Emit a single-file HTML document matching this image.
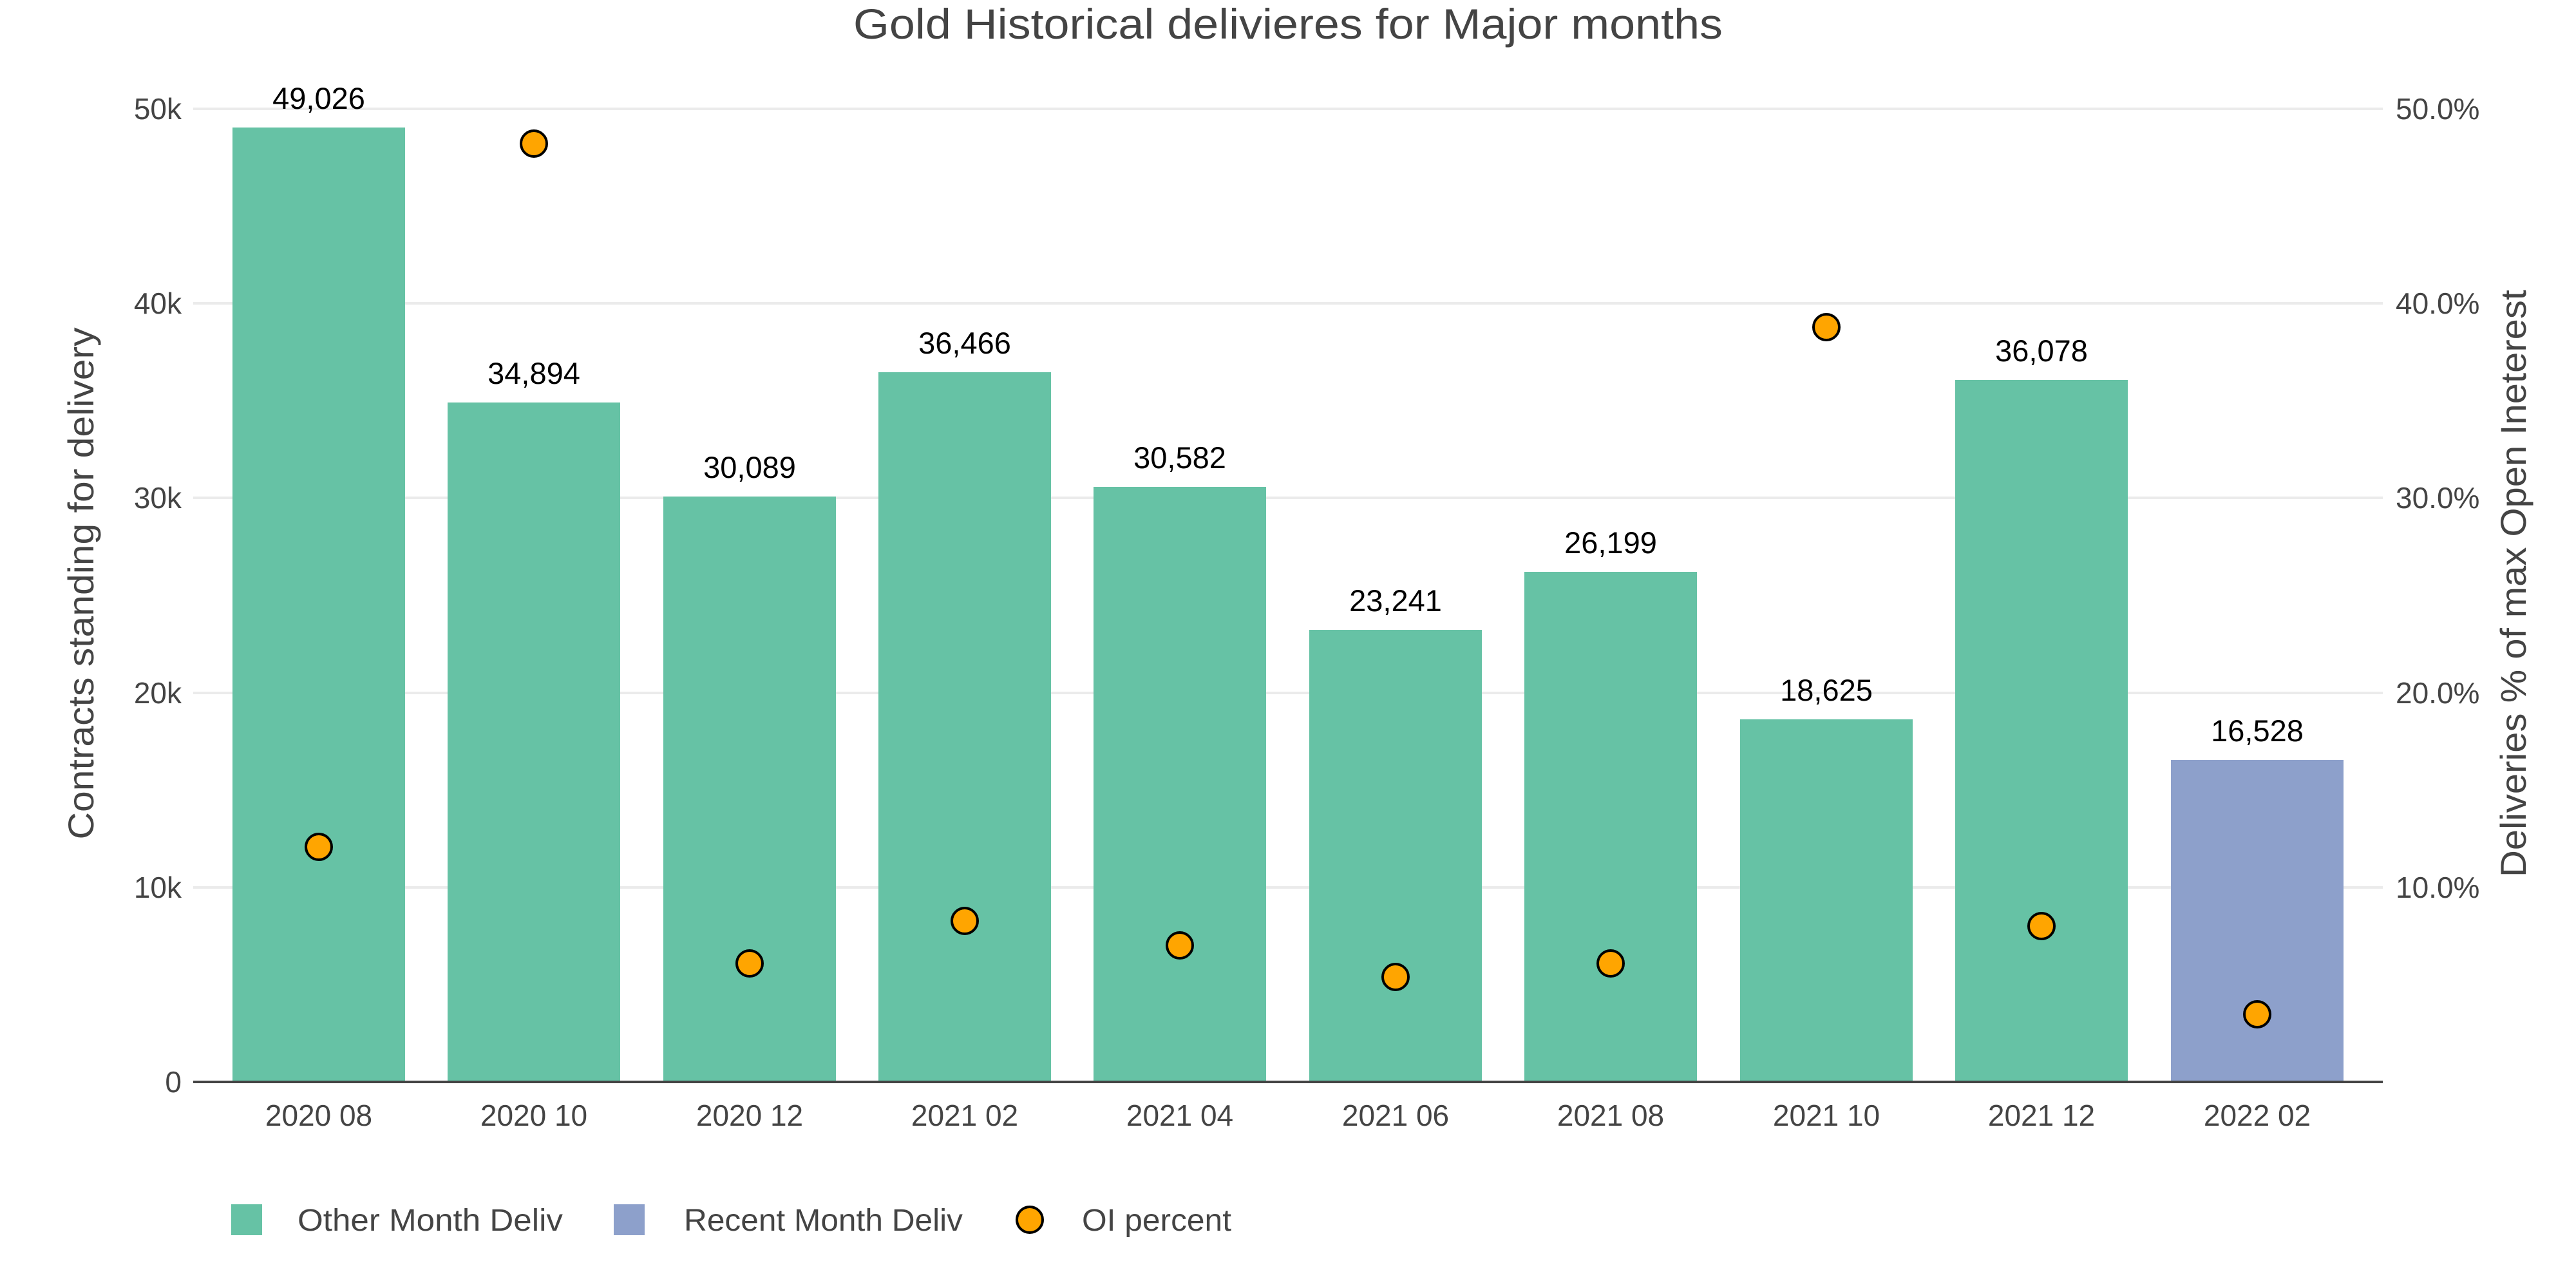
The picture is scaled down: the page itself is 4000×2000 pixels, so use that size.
<!DOCTYPE html>
<html><head><meta charset="utf-8"><style>html,body{margin:0;padding:0;background:#fff}svg{display:block}</style></head>
<body>
<svg width="4000" height="2000" xmlns="http://www.w3.org/2000/svg" font-family="'Liberation Sans', sans-serif">
<rect width="4000" height="2000" fill="#fff"/>
<text x="2000" y="60" font-size="66" fill="#444" text-anchor="middle" textLength="1350" lengthAdjust="spacingAndGlyphs">Gold Historical delivieres for Major months</text>
<g stroke="#ebebeb" stroke-width="4">
<line x1="300" x2="3700" y1="1378" y2="1378"/>
<line x1="300" x2="3700" y1="1076" y2="1076"/>
<line x1="300" x2="3700" y1="773" y2="773"/>
<line x1="300" x2="3700" y1="471" y2="471"/>
<line x1="300" x2="3700" y1="169" y2="169"/>
</g>
<g font-size="46" fill="#444" text-anchor="end">
<text x="282" y="1696">0</text>
<text x="282" y="1394">10k</text>
<text x="282" y="1092">20k</text>
<text x="282" y="789">30k</text>
<text x="282" y="487">40k</text>
<text x="282" y="185">50k</text>
</g>
<g font-size="46" fill="#444" text-anchor="start">
<text x="3720" y="1394">10.0%</text>
<text x="3720" y="1092">20.0%</text>
<text x="3720" y="789">30.0%</text>
<text x="3720" y="487">40.0%</text>
<text x="3720" y="185">50.0%</text>
</g>
<text transform="translate(145,906) rotate(-90)" font-size="56" fill="#444" text-anchor="middle" textLength="795" lengthAdjust="spacingAndGlyphs">Contracts standing for delivery</text>
<text transform="translate(3922,906) rotate(-90)" font-size="56" fill="#444" text-anchor="middle" textLength="912" lengthAdjust="spacingAndGlyphs">Deliveries % of max Open Ineterest</text>
<g fill="#66c2a5">
<rect x="361" y="198" width="268" height="1482"/>
<rect x="695" y="625" width="268" height="1055"/>
<rect x="1030" y="771" width="268" height="909"/>
<rect x="1364" y="578" width="268" height="1102"/>
<rect x="1698" y="756" width="268" height="924"/>
<rect x="2033" y="978" width="268" height="702"/>
<rect x="2367" y="888" width="268" height="792"/>
<rect x="2702" y="1117" width="268" height="563"/>
<rect x="3036" y="590" width="268" height="1090"/>
</g>
<rect x="3371" y="1180" width="268" height="500" fill="#8da0cb"/>
<line x1="300" x2="3700" y1="1680" y2="1680" stroke="#444" stroke-width="4"/>
<g font-size="47" fill="#000" text-anchor="middle">
<text x="495" y="169">49,026</text>
<text x="829" y="596">34,894</text>
<text x="1164" y="742">30,089</text>
<text x="1498" y="549">36,466</text>
<text x="1832" y="727">30,582</text>
<text x="2167" y="949">23,241</text>
<text x="2501" y="859">26,199</text>
<text x="2836" y="1088">18,625</text>
<text x="3170" y="561">36,078</text>
<text x="3505" y="1151">16,528</text>
</g>
<g font-size="46" fill="#444" text-anchor="middle">
<text x="495" y="1748">2020 08</text>
<text x="829" y="1748">2020 10</text>
<text x="1164" y="1748">2020 12</text>
<text x="1498" y="1748">2021 02</text>
<text x="1832" y="1748">2021 04</text>
<text x="2167" y="1748">2021 06</text>
<text x="2501" y="1748">2021 08</text>
<text x="2836" y="1748">2021 10</text>
<text x="3170" y="1748">2021 12</text>
<text x="3505" y="1748">2022 02</text>
</g>
<g fill="#ffa500" stroke="#000" stroke-width="4">
<circle cx="495" cy="1315" r="20"/>
<circle cx="829" cy="223" r="20"/>
<circle cx="1164" cy="1496" r="20"/>
<circle cx="1498" cy="1430" r="20"/>
<circle cx="1832" cy="1468" r="20"/>
<circle cx="2167" cy="1517" r="20"/>
<circle cx="2501" cy="1496" r="20"/>
<circle cx="2836" cy="508" r="20"/>
<circle cx="3170" cy="1438" r="20"/>
<circle cx="3505" cy="1575" r="20"/>
</g>
<rect x="359" y="1870" width="48" height="48" fill="#66c2a5"/>
<text x="462" y="1911" font-size="48" fill="#444" textLength="412" lengthAdjust="spacingAndGlyphs">Other Month Deliv</text>
<rect x="953" y="1870" width="48" height="48" fill="#8da0cb"/>
<text x="1062" y="1911" font-size="48" fill="#444" textLength="433" lengthAdjust="spacingAndGlyphs">Recent Month Deliv</text>
<circle cx="1599" cy="1894" r="20" fill="#ffa500" stroke="#000" stroke-width="4"/>
<text x="1680" y="1911" font-size="48" fill="#444" textLength="232" lengthAdjust="spacingAndGlyphs">OI percent</text>
</svg>
</body></html>
